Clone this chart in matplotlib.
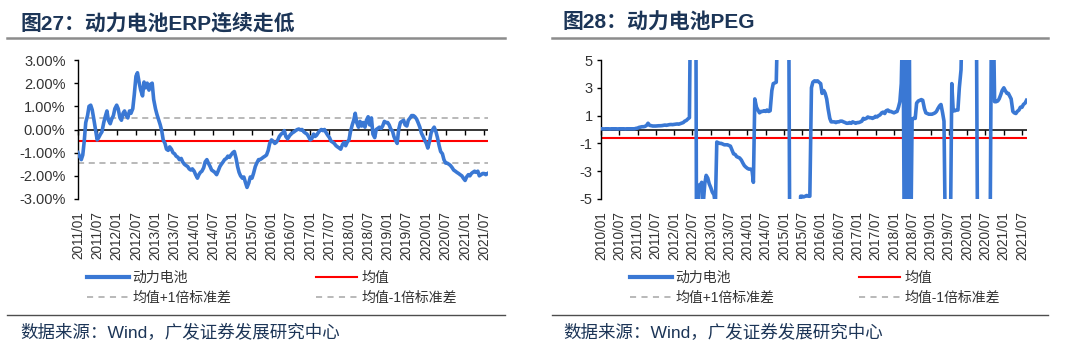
import matplotlib
matplotlib.use('Agg')
import matplotlib.pyplot as plt
import matplotlib.markers as mmarkers
from matplotlib.lines import Line2D
import pandas as pd

plt.rcParams['font.family'] = ['Liberation Sans', 'Noto Sans CJK SC']
plt.rcParams['axes.unicode_minus'] = False

# ---------------- data ----------------
# ERP (%) semi-monthly from 2011-01
erp_start = '2011-01-01'
erp_values = [
    -1.0, -1.15, -1.3, -1.1, -0.5, 0.3, 0.6, 1.0, 1.05, 0.85, 0.4, 0.0, -0.45, -0.35, -0.2, -0.1, 0.3, 0.55, 0.8, 0.4, 0.25, 0.45, 0.6, 0.9,
    1.05, 0.9, 0.5, 0.4, 0.7, 0.8, 0.6, 0.5, 0.8, 0.7, 0.9, 1.5, 2.3, 2.45, 2.0, 1.7, 1.45, 2.05, 1.8, 2.0, 1.7, 1.95, 2.0, 1.3,
    0.9, 0.65, 0.4, 0.2, -0.05, -0.45, -0.6, -0.85, -0.9, -0.75, -0.85, -1.0, -1.05, -1.15, -1.2, -1.3, -1.25, -1.4, -1.5, -1.55, -1.6, -1.7, -1.75, -1.7,
    -1.8, -1.95, -2.1, -1.95, -1.85, -1.8, -1.65, -1.4, -1.3, -1.45, -1.6, -1.75, -1.8, -1.85, -1.95, -1.8, -1.6, -1.5, -1.4, -1.3, -1.25, -1.15, -1.2, -1.1,
    -1.0, -0.95, -1.25, -1.6, -1.85, -2.0, -2.1, -2.05, -2.3, -2.5, -2.3, -2.05, -2.1, -1.9, -1.6, -1.45, -1.3, -1.3, -1.25, -1.2, -1.15, -1.1, -0.9, -0.6,
    -0.45, -0.5, -0.6, -0.55, -0.45, -0.3, -0.2, -0.15, -0.05, -0.3, -0.4, -0.3, -0.2, -0.15, -0.1, -0.05, 0.0, 0.02, -0.02, 0.0, -0.1, -0.15, -0.2, -0.3,
    -0.45, -0.4, -0.2, -0.3, -0.25, -0.15, -0.05, 0.0, -0.05, 0.0, -0.15, -0.25, -0.35, -0.5, -0.55, -0.6, -0.7, -0.75, -0.8, -0.85, -0.65, -0.55, -0.7, -0.55,
    -0.45, -0.1, 0.2, 0.4, 0.7, 0.3, 0.1, 0.35, 0.15, 0.3, 0.1, 0.4, 0.55, 0.2, 0.5, -0.2, -0.35, 0.0, 0.05, 0.1, 0.05, 0.15, 0.35, 0.3,
    0.3, 0.2, 0.0, -0.05, -0.3, -0.45, -0.6, 0.0, 0.3, 0.35, 0.4, 0.2, 0.15, 0.4, 0.5, 0.6, 0.6, 0.55, 0.45, 0.3, 0.1, -0.15, -0.3, -0.45,
    -0.6, -0.8, -0.5, -0.15, 0.0, 0.1, -0.1, -0.35, -0.7, -0.95, -1.05, -1.3, -1.45, -1.45, -1.5, -1.55, -1.65, -1.75, -1.8, -1.85, -1.9, -1.95, -2.0, -2.1,
    -2.2, -2.05, -1.95, -2.0, -1.9, -1.85, -1.8, -1.85, -1.8, -2.0, -1.95, -1.9, -1.9, -1.95, -1.9,
]
erp_mean = -0.49
erp_std = 0.97
erp_labels = ['2011/01', '2011/07', '2012/01', '2012/07', '2013/01', '2013/07', '2014/01', '2014/07',
              '2015/01', '2015/07', '2016/01', '2016/07', '2017/01', '2017/07', '2018/01', '2018/07',
              '2019/01', '2019/07', '2020/01', '2020/07', '2021/01', '2021/07']

# PEG semi-monthly from 2010-01
peg_start = '2010-01-01'
peg_values = [
    0.05, 0.05, 0.04, 0.05, 0.05, 0.05, 0.04, 0.05, 0.05, 0.05, 0.05, 0.04, 0.05, 0.05, 0.05, 0.05, 0.04, 0.05, 0.05, 0.05, 0.05, 0.05, 0.05, 0.08,
    0.10, 0.15, 0.18, 0.20, 0.20, 0.22, 0.30, 0.45, 0.30, 0.28, 0.25, 0.25, 0.25, 0.26, 0.27, 0.27, 0.28, 0.30, 0.32, 0.30, 0.33, 0.35, 0.36, 0.35,
    0.37, 0.38, 0.40, 0.38, 0.42, 0.45, 0.50, 0.60, 0.65, 0.75, 0.85, 12.0, 15.0, 14.0, 18.0, -20.0, -4.0, -4.1, -3.8, -5.5, -3.9, -3.3, -3.5, -3.9,
    -4.2, -4.5, -4.7, -5.4, -0.9, -0.95, -1.0, -1.0, -1.05, -1.1, -1.1, -1.1, -1.15, -1.2, -1.5, -1.75, -1.8, -1.95, -2.0, -2.05, -2.2, -2.4, -2.6, -2.7,
    -2.8, -2.85, -2.85, -2.9, -3.8, 2.2, 1.6, 1.4, 1.2, 1.3, 1.3, 1.35, 1.3, 1.4, 1.3, 1.35, 2.8, 3.3, 3.35, 3.4, 9.0, 12.0, 11.0, 12.0,
    11.0, 10.0, 12.0, 11.0, -12.0, -12.0, -11.0, -12.0, -12.0, -11.0, -12.0, -4.8, -4.8, -4.85, -4.8, -4.75, -4.8, -4.8, 3.0, 3.4, 3.5, 3.45, 3.5, 3.4,
    3.3, 2.6, 2.8, 2.6, 2.2, 1.5, 0.8, 0.55, 0.55, 0.55, 0.5, 0.55, 0.55, 0.6, 0.6, 0.55, 0.5, 0.45, 0.45, 0.5, 0.45, 0.55, 0.5, 0.45,
    0.5, 0.5, 0.55, 0.6, 0.8, 0.75, 0.8, 0.9, 0.85, 0.85, 0.8, 0.85, 0.95, 0.9, 1.0, 1.05, 1.2, 1.25, 1.15, 1.35, 1.4, 1.3, 1.3, 1.25,
    1.2, 1.25, 1.3, 1.6, 2.0, 3.3, 9.0, -10.0, 10.0, -10.0, 10.0, -10.0, 0.75, 0.8, 0.8, 1.9, 2.05, 2.1, 2.15, 2.1, 1.5, 1.2, 1.15, 1.1,
    1.1, 1.1, 1.15, 1.2, 1.3, 1.5, 1.7, 1.8, 1.2, 0.6, -10.0, -10.0, -10.0, -10.0, 3.3, 1.35, 1.35, 1.4, 1.4, 3.0, 4.3, 9.0, 10.0, 11.0,
    10.0, 12.0, 11.0, 10.0, 12.0, 11.0, 10.0, -10.0, -11.0, -10.0, -12.0, -10.0, -11.0, -10.0, -12.0, -10.0, 10.0, 10.0, 2.0, 2.0, 2.05, 2.2, 2.5, 2.8,
    3.0, 2.8, 2.6, 2.6, 2.4, 2.2, 1.3, 1.2, 1.15, 1.3, 1.4, 1.6, 1.6, 1.8, 1.9, 2.1,
]
peg_mean = -0.58
peg_std = 25.0
peg_labels = ['2010/01', '2010/07'] + erp_labels

legend_names = ['动力电池', '均值+1倍标准差', '均值', '均值-1倍标准差']
titles = ['图27：动力电池ERP连续走低', '图28：动力电池PEG']
source_text = '数据来源：Wind，广发证券发展研究中心'

# ---------------- style ----------------
W, H = 1080, 352
BLUE = '#3A78D4'
RED = '#FF0000'
GREY = '#A6A6A6'
NAVY = '#1C3557'
TXT = '#333333'

fig = plt.figure(figsize=(W / 100, H / 100), dpi=100)


def px_rect(x0, y0, x1, y1):
    return [x0 / W, 1 - y1 / H, (x1 - x0) / W, (y1 - y0) / H]


def draw_panel(rect, start, values, mean, std, labels, xlim_end, yticks, ylabels, ypad):
    ax = fig.add_axes(rect)
    dates = pd.date_range(start, periods=len(values), freq='SMS')
    ax.axhline(mean + std, color=GREY, lw=1.1, ls=(0, (4, 3)), zorder=1)
    ax.axhline(mean - std, color=GREY, lw=1.1, ls=(0, (4, 3)), zorder=1)
    ax.axhline(mean, color=RED, lw=1.5, zorder=2)
    ax.axhline(0, color='black', lw=1.1, zorder=2.5)
    tick_dates = pd.to_datetime(labels, format='%Y/%m')
    ax.plot(tick_dates, [0] * len(tick_dates), ls='none', marker=mmarkers.TICKDOWN,
            markersize=3.5, markeredgewidth=1.0, color='black', zorder=2.5, clip_on=False)
    ax.plot(dates, values, color=BLUE, lw=2.6, solid_joinstyle='round', zorder=3)
    ax.set_xlim(pd.Timestamp(start), pd.Timestamp(xlim_end))
    ax.set_ylim(yticks[0], yticks[-1])
    ax.set_yticks(yticks)
    ax.set_yticklabels(ylabels)
    ax.set_xticks(tick_dates)
    ax.set_xticklabels(labels, rotation=90)
    for s in ['top', 'right', 'bottom']:
        ax.spines[s].set_visible(False)
    ax.spines['left'].set_color('black')
    ax.spines['left'].set_linewidth(1.0)
    ax.tick_params(axis='y', direction='out', length=3, width=1.0, color='black',
                   labelsize=10.5, labelcolor=TXT, pad=ypad)
    ax.tick_params(axis='x', length=0, labelsize=9.8, labelcolor=TXT, pad=8.6)
    ax.set_facecolor('none')
    return ax


erp_yticks = [-3, -2, -1, 0, 1, 2, 3]
draw_panel(px_rect(78, 60, 488, 199), erp_start, erp_values, erp_mean, erp_std,
           erp_labels, '2021-08-05', erp_yticks, [f'{v:.2f}%' for v in erp_yticks], 6.0)

peg_yticks = [-5, -3, -1, 1, 3, 5]
draw_panel(px_rect(601, 60, 1027, 199), peg_start, peg_values, peg_mean, peg_std,
           peg_labels, '2021-08-20', peg_yticks, [str(v) for v in peg_yticks], 3.0)

# titles, rules, legends, sources
for x_title, x0, x1, xleg, ttl in [(20, 7, 505, 87, titles[0]), (563, 552, 1048, 630, titles[1])]:
    fig.text(x_title / W, 1 - 23 / H, ttl, fontsize=15, fontweight='bold', color=NAVY,
             ha='left', va='center')
    fig.add_artist(Line2D([x0 / W, x1 / W], [1 - 38 / H] * 2, color='#8C8C8C', lw=1.8))
    fig.add_artist(Line2D([x0 / W, x1 / W], [1 - 315 / H] * 2, color='#4D4D4D', lw=1.0))
    fig.text(x_title / W, 1 - 332 / H, source_text, fontsize=12.6, color=NAVY,
             ha='left', va='center')
    handles = [
        Line2D([], [], color=BLUE, lw=3.0),
        Line2D([], [], color=GREY, lw=1.1, ls=(0, (4, 3.5))),
        Line2D([], [], color=RED, lw=1.5),
        Line2D([], [], color=GREY, lw=1.1, ls=(0, (4, 3.5))),
    ]
    fig.legend(handles, legend_names, loc='upper left', bbox_to_anchor=(xleg / W, 1 - 271 / H),
               ncol=2, frameon=False, fontsize=10, handlelength=3.0, handletextpad=0.29,
               columnspacing=6.05, labelspacing=0.4, borderpad=0, borderaxespad=0,
               labelcolor=TXT)

fig.savefig('out.png', dpi=100, facecolor='white')
